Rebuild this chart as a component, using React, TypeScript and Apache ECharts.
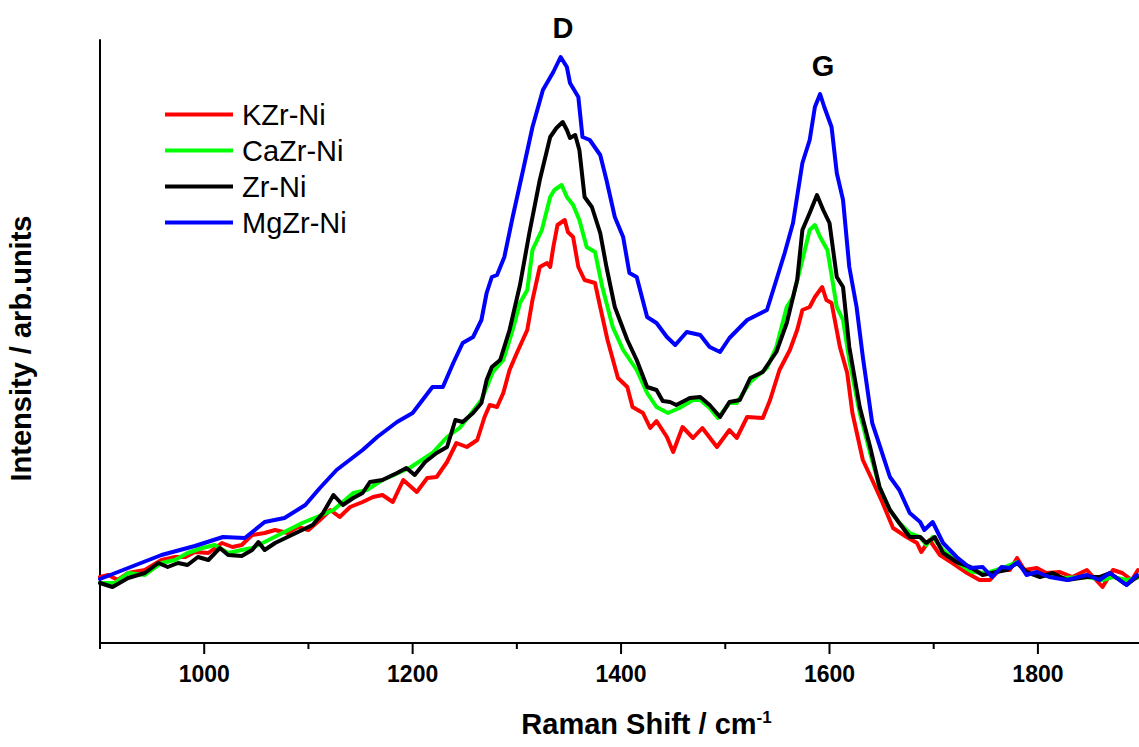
import React, { useEffect, useRef } from "react";
import * as echarts from "echarts";

// Raman shift (cm-1), intensity (arb. units)
const kzrNi: [number, number][] = [
  [900, 66], [908, 68], [917, 63], [927, 70], [943, 73], [959, 83], [972, 86], [982, 86], [991, 91],
  [1004, 90], [1017, 100], [1027, 96], [1036, 98], [1046, 108], [1058, 110], [1068, 113], [1080, 110],
  [1090, 116], [1100, 113], [1111, 123], [1121, 133], [1130, 126], [1140, 136], [1152, 141], [1162, 146],
  [1171, 148], [1181, 141], [1191, 163], [1204, 151], [1214, 165], [1223, 166], [1233, 181], [1242, 200],
  [1252, 196], [1262, 203], [1269, 226], [1274, 238], [1281, 236], [1287, 250], [1293, 273], [1300, 290],
  [1310, 313], [1315, 343], [1322, 376], [1329, 380], [1332, 376], [1335, 396], [1339, 418], [1346, 423],
  [1349, 411], [1354, 406], [1359, 376], [1365, 363], [1375, 360], [1380, 336], [1387, 303], [1397, 265],
  [1406, 256], [1411, 236], [1421, 230], [1428, 215], [1434, 222], [1444, 206], [1450, 191], [1459, 216],
  [1469, 205], [1478, 215], [1492, 196], [1504, 213], [1511, 205], [1521, 226], [1536, 225], [1543, 243],
  [1552, 273], [1562, 293], [1569, 313], [1574, 333], [1581, 336], [1586, 346], [1593, 356], [1597, 343],
  [1602, 340], [1610, 296], [1617, 270], [1622, 230], [1632, 183], [1641, 163], [1651, 140], [1661, 115],
  [1674, 106], [1684, 100], [1688, 91], [1696, 103], [1706, 88], [1718, 80], [1732, 70], [1744, 63],
  [1754, 63], [1763, 73], [1773, 73], [1780, 85], [1787, 73], [1799, 75], [1808, 70], [1821, 71],
  [1833, 66], [1847, 73], [1862, 56], [1872, 73], [1881, 70], [1890, 63], [1896, 73],
];

const cazrNi: [number, number][] = [
  [900, 60], [914, 60], [927, 70], [943, 68], [959, 80], [972, 83], [984, 90], [998, 95], [1010, 98],
  [1023, 90], [1036, 93], [1046, 95], [1058, 101], [1075, 110], [1094, 120], [1108, 126], [1124, 133],
  [1143, 150], [1156, 153], [1171, 163], [1197, 175], [1219, 190], [1233, 206], [1245, 215], [1255, 228],
  [1266, 243], [1277, 271], [1287, 283], [1296, 313], [1303, 340], [1310, 353], [1315, 393], [1324, 413],
  [1332, 446], [1336, 453], [1343, 458], [1348, 446], [1354, 438], [1360, 423], [1367, 396], [1375, 391],
  [1382, 356], [1392, 316], [1402, 293], [1415, 273], [1425, 250], [1434, 236], [1445, 230], [1456, 235],
  [1469, 243], [1476, 243], [1485, 235], [1493, 225], [1504, 240], [1511, 240], [1524, 261], [1540, 275],
  [1549, 296], [1559, 336], [1565, 346], [1574, 383], [1581, 413], [1586, 418], [1591, 406], [1598, 393],
  [1607, 336], [1613, 323], [1619, 283], [1629, 230], [1639, 190], [1648, 156], [1658, 133], [1667, 120],
  [1677, 110], [1687, 106], [1693, 98], [1699, 106], [1709, 93], [1722, 81], [1737, 71], [1751, 70],
  [1766, 75], [1780, 81], [1789, 70], [1802, 68], [1821, 65], [1847, 66], [1862, 63], [1872, 66],
  [1885, 63], [1895, 65],
];

const zrNi: [number, number][] = [
  [900, 60], [912, 56], [927, 65], [943, 70], [956, 80], [965, 76], [975, 80], [984, 78], [994, 86],
  [1004, 83], [1015, 95], [1023, 88], [1036, 87], [1046, 93], [1052, 101], [1058, 93], [1068, 100],
  [1080, 106], [1094, 113], [1104, 118], [1114, 130], [1124, 148], [1133, 138], [1143, 145], [1152, 150],
  [1159, 161], [1171, 163], [1185, 170], [1194, 175], [1202, 168], [1212, 181], [1223, 190], [1233, 196],
  [1241, 223], [1248, 221], [1258, 230], [1266, 240], [1271, 263], [1276, 276], [1284, 283], [1293, 313],
  [1303, 358], [1312, 410], [1322, 463], [1332, 506], [1338, 515], [1344, 521], [1348, 513], [1351, 505],
  [1356, 508], [1360, 493], [1365, 446], [1372, 436], [1380, 410], [1386, 376], [1394, 336], [1406, 303],
  [1415, 283], [1425, 256], [1434, 253], [1440, 242], [1447, 241], [1453, 238], [1466, 245], [1476, 246],
  [1485, 238], [1495, 226], [1504, 241], [1514, 243], [1524, 265], [1536, 271], [1549, 291], [1559, 320],
  [1569, 363], [1574, 413], [1581, 430], [1588, 448], [1594, 433], [1600, 420], [1607, 366], [1613, 356],
  [1619, 296], [1629, 236], [1639, 196], [1648, 156], [1658, 133], [1667, 120], [1677, 106], [1687, 106],
  [1693, 100], [1701, 106], [1709, 90], [1722, 81], [1735, 76], [1747, 68], [1760, 71], [1770, 73],
  [1780, 80], [1789, 71], [1802, 66], [1814, 70], [1828, 63], [1847, 66], [1859, 66], [1869, 70],
  [1885, 58], [1895, 66],
];

const mgzrNi: [number, number][] = [
  [900, 64], [927, 75], [959, 88], [991, 97], [1018, 106], [1039, 105], [1058, 121], [1077, 125],
  [1097, 138], [1111, 155], [1127, 173], [1152, 193], [1166, 206], [1185, 221], [1200, 230], [1219, 256],
  [1229, 256], [1239, 280], [1248, 300], [1258, 306], [1266, 323], [1271, 350], [1276, 366], [1281, 368],
  [1288, 386], [1296, 426], [1306, 473], [1315, 516], [1325, 553], [1335, 571], [1342, 586], [1348, 576],
  [1351, 560], [1359, 546], [1363, 506], [1370, 503], [1380, 488], [1386, 463], [1394, 426], [1402, 406],
  [1408, 370], [1415, 366], [1425, 326], [1434, 320], [1444, 306], [1452, 298], [1463, 311], [1476, 308],
  [1485, 296], [1495, 291], [1504, 305], [1521, 323], [1540, 333], [1549, 363], [1557, 390], [1565, 420],
  [1574, 480], [1581, 503], [1586, 536], [1591, 549], [1595, 536], [1602, 516], [1607, 470], [1613, 443],
  [1619, 376], [1626, 336], [1632, 286], [1641, 220], [1648, 198], [1658, 166], [1667, 153], [1677, 130],
  [1687, 121], [1691, 113], [1699, 121], [1709, 100], [1722, 86], [1735, 75], [1747, 76], [1756, 66],
  [1765, 76], [1773, 75], [1781, 81], [1789, 68], [1799, 71], [1811, 66], [1828, 63], [1847, 68],
  [1859, 63], [1869, 70], [1885, 58], [1895, 68],
];

const seriesNames = ["KZr-Ni", "CaZr-Ni", "Zr-Ni", "MgZr-Ni"];
const seriesData = [kzrNi, cazrNi, zrNi, mgzrNi];
const seriesColors = ["#ff0000", "#00ff00", "#000000", "#0000ff"];

const majorTicks = [1000, 1200, 1400, 1600, 1800];
const minorTicks = [900, 1100, 1300, 1500, 1700];
const xMin = 900;
const xMax = 1897;
const yMin = 0;
const yMax = 603;

const FONT = '"Liberation Sans", Arial, Helvetica, sans-serif';

export default function App() {
  const ref = useRef<HTMLDivElement>(null);

  useEffect(() => {
    if (!ref.current) return;
    const chart = echarts.init(ref.current, undefined, { renderer: "svg" });
    const peakLabels = [
      {
        id: "labelD",
        type: "text",
        x: 563,
        y: 28,
        z: 100,
        style: {
          text: "D",
          font: `bold 29px ${FONT}`,
          fill: "#000",
          textAlign: "center",
          textVerticalAlign: "middle",
          align: "center",
          verticalAlign: "middle",
        },
      },
      {
        id: "labelG",
        type: "text",
        x: 823,
        y: 66,
        z: 100,
        style: {
          text: "G",
          font: `bold 29px ${FONT}`,
          fill: "#000",
          textAlign: "center",
          textVerticalAlign: "middle",
          align: "center",
          verticalAlign: "middle",
        },
      },
    ];
    chart.setOption({
      animation: false,
      backgroundColor: "#ffffff",
      grid: {
        left: 100,
        right: 0,
        top: 40,
        bottom: 104,
        containLabel: false,
        outerBoundsMode: "none",
      },
      legend: {
        orient: "vertical",
        left: 165,
        top: 100,
        padding: 0,
        itemWidth: 68,
        itemHeight: 4,
        itemGap: 7,
        icon: "rect",
        data: seriesNames,
        textStyle: {
          fontFamily: FONT,
          fontSize: 29,
          color: "#000",
          lineHeight: 29,
          padding: [0, 0, 0, 4],
        },
      },
      xAxis: {
        type: "value",
        min: xMin,
        max: xMax,
        interval: 100,
        position: "bottom",
        name: "{b|Raman Shift / cm}{s|-1}",
        nameLocation: "middle",
        nameGap: 66,
        nameTextStyle: {
          padding: [0, 0, 0, 54],
          rich: {
            b: { fontFamily: FONT, fontSize: 29, fontWeight: "bold", color: "#000" },
            s: {
              fontFamily: FONT,
              fontSize: 17,
              fontWeight: "bold",
              color: "#000",
              verticalAlign: "top",
            },
          },
        },
        axisLine: { show: true, onZero: false, lineStyle: { color: "#000", width: 2 } },
        axisTick: { show: false },
        axisLabel: {
          fontFamily: FONT,
          fontSize: 23,
          fontWeight: "bold",
          color: "#000",
          margin: 19,
          formatter: (v: number) => (majorTicks.includes(v) ? String(v) : ""),
        },
        splitLine: { show: false },
      },
      yAxis: {
        type: "value",
        min: yMin,
        max: yMax,
        name: "Intensity / arb.units",
        nameLocation: "middle",
        nameGap: 65,
        nameTextStyle: {
          fontFamily: FONT,
          fontSize: 29,
          fontWeight: "bold",
          color: "#000",
          padding: [0, 14, 0, 0],
        },
        axisLine: { show: true, onZero: false, lineStyle: { color: "#000", width: 2 } },
        axisTick: { show: false },
        axisLabel: { show: false },
        splitLine: { show: false },
      },
      series: seriesNames.map((name, i) => ({
        name,
        type: "line",
        data: seriesData[i],
        showSymbol: false,
        symbol: "none",
        smooth: false,
        color: seriesColors[i],
        itemStyle: { color: seriesColors[i] },
        lineStyle: { color: seriesColors[i], width: 4, join: "round", cap: "round" },
        z: 2 + i,
      })),
      graphic: peakLabels,
    });

    // Axis ticks placed through the chart's own x/y scales
    const baseY = chart.convertToPixel({ yAxisIndex: 0 }, yMin) as number;
    const tickEls = [...minorTicks, ...majorTicks].map((v, k) => {
      const px = chart.convertToPixel({ xAxisIndex: 0 }, v) as number;
      const len = majorTicks.includes(v) ? 11 : 6;
      return {
        id: "tick" + k,
        type: "rect",
        z: 100,
        silent: true,
        shape: { x: px - 1, y: baseY, width: 2, height: len },
        style: { fill: "#000" },
      };
    });
    chart.setOption({ graphic: [...peakLabels, ...tickEls] });

    return () => chart.dispose();
  }, []);

  return (
    <div
      ref={ref}
      style={{ position: "absolute", left: 0, top: 0, width: 1139, height: 747, background: "#fff" }}
    />
  );
}
